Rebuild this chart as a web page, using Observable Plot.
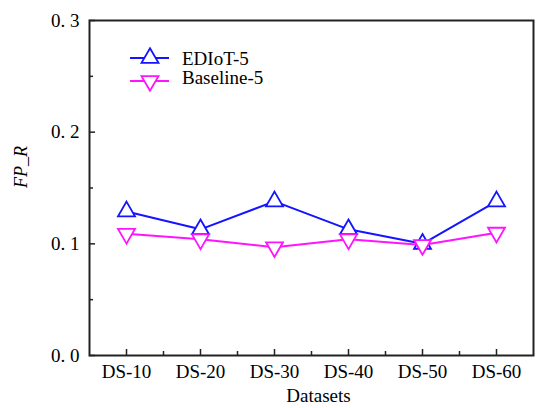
<!DOCTYPE html>
<html>
<head>
<meta charset="utf-8">
<script src="https://cdn.jsdelivr.net/npm/d3@7"></script>
<script src="https://cdn.jsdelivr.net/npm/@observablehq/plot@0.6"></script>
<style>
  html, body { margin: 0; padding: 0; background: #fff; }
  #chart { position: relative; width: 539px; height: 408px; }
</style>
</head>
<body>
<div id="chart"></div>
<script>
const categories = ["DS-10", "DS-20", "DS-30", "DS-40", "DS-50", "DS-60"];
const ediot = [0.129, 0.113, 0.138, 0.113, 0.100, 0.138];
const baseline = [0.109, 0.104, 0.097, 0.104, 0.099, 0.110];
const seriesNames = ["EDIoT-5", "Baseline-5"];
const yTicks = [0.0, 0.1, 0.2, 0.3];
const yMinorTicks = [0.05, 0.15, 0.25];

const blue = "#1414ff";
const pink = "#ff14ff";
const font = "'Liberation Serif', 'Times New Roman', serif";

const idx = categories.map((_, i) => i);
const xMinor = d3.range(categories.length - 1).map(i => i + 0.5);
const W = 539, H = 408, mL = 89, mR = 6, mT = 20, mB = 53;
const fw = W - mL - mR, fh = H - mT - mB;

const plot = Plot.plot({
  width: W, height: H,
  marginLeft: mL, marginRight: mR, marginTop: mT, marginBottom: mB,
  style: { fontFamily: font, fontSize: "19px", color: "#000", background: "#fff" },
  x: { domain: [-0.5, categories.length - 0.5] },
  y: { domain: [0, 0.3] },
  marks: [
    Plot.axisX(idx, { tickSize: 0, tickPadding: 9, tickFormat: i => categories[i], fontSize: 19, label: null }),
    Plot.axisY(yTicks, { tickSize: 0, tickPadding: 10, tickFormat: d => d.toFixed(1).replace(".", ".\u00a0"), fontSize: 19, label: null }),
    Plot.ruleX(idx, { x: d => d, insetTop: fh - 6, stroke: "#222", strokeWidth: 1.5 }),
    Plot.ruleX(xMinor, { x: d => d, insetTop: fh - 4, stroke: "#222", strokeWidth: 1.5 }),
    Plot.ruleY(yTicks, { y: d => d, insetRight: fw - 6, stroke: "#222", strokeWidth: 1.5 }),
    Plot.ruleY(yMinorTicks, { y: d => d, insetRight: fw - 4, stroke: "#222", strokeWidth: 1.5 }),
    Plot.text(["FP_R"], { frameAnchor: "left", dx: -68, rotate: -90, fontStyle: "italic", fontSize: 18, fill: "#000" }),
    Plot.text(["Datasets"], { frameAnchor: "bottom", lineAnchor: "middle", dx: 7, dy: 40, fontSize: 19, fill: "#000", letterSpacing: "1.5px" }),
    Plot.line(ediot, { x: (d, i) => i, y: d => d, stroke: blue, strokeWidth: 2 }),
    Plot.dot(ediot, { x: (d, i) => i, y: d => d, symbol: "triangle", r: 6.3, stroke: blue, fill: "#fff", strokeWidth: 1.8 }),
    Plot.line(baseline, { x: (d, i) => i, y: d => d, stroke: pink, strokeWidth: 2 }),
    Plot.dot(baseline, { x: (d, i) => i, y: d => d, symbol: "triangle", rotate: 180, r: 6.3, stroke: pink, fill: "#fff", strokeWidth: 1.8 }),
    Plot.frame({ stroke: "#222", strokeWidth: 2 })
  ]
});

document.getElementById("chart").appendChild(plot);

// Legend inside plot area
const svg = d3.select(plot);
const legend = svg.append("g").attr("class", "legend");
const items = [
  { name: seriesNames[0], color: blue, rot: 0, y: 58, ty: 65 },
  { name: seriesNames[1], color: pink, rot: 180, y: 81, ty: 84 }
];
const sym = d3.symbol(d3.symbolTriangle, 6.3 * 6.3 * Math.PI)();
items.forEach(it => {
  legend.append("line").attr("x1", 130).attr("x2", 169).attr("y1", it.y).attr("y2", it.y)
    .attr("stroke", it.color).attr("stroke-width", 2);
  legend.append("path").attr("d", sym)
    .attr("transform", `translate(150,${it.y}) rotate(${it.rot})`)
    .attr("fill", "#fff").attr("stroke", it.color).attr("stroke-width", 1.8);
  legend.append("text").attr("x", 182).attr("y", it.ty).text(it.name)
    .attr("text-anchor", "start")
    .attr("font-family", font).attr("font-size", 19).attr("fill", "#000");
});
</script>
</body>
</html>
